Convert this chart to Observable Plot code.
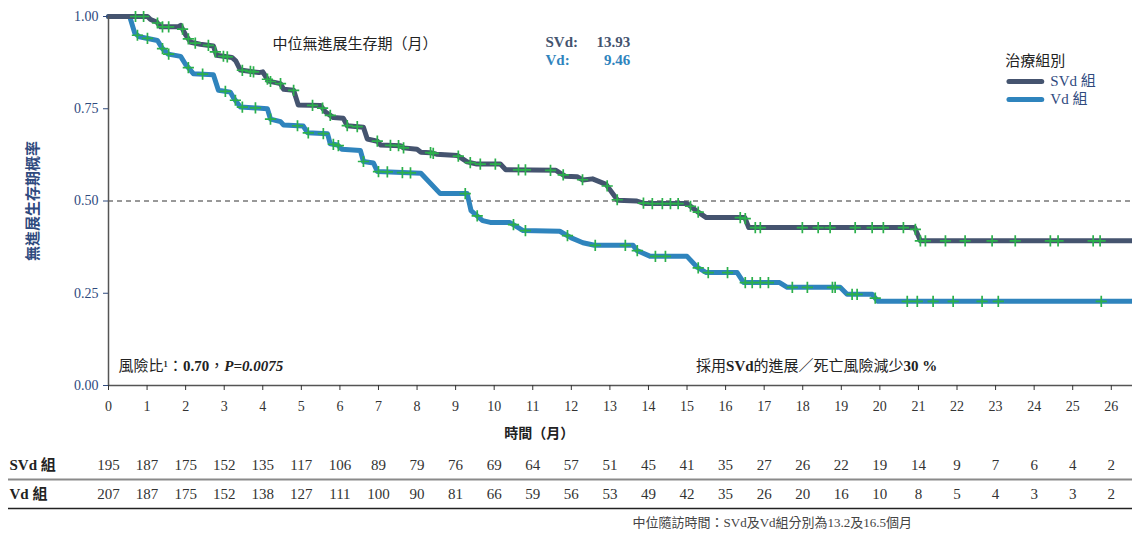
<!DOCTYPE html>
<html><head><meta charset="utf-8">
<script src="https://cdn.jsdelivr.net/npm/d3@7"></script>
<script src="https://cdn.jsdelivr.net/npm/@observablehq/plot@0.6"></script>
<style>
body{margin:0;background:#fff;}
#chart{width:1132px;height:536px;overflow:hidden;background:#fff}
#chart svg{display:block}
</style></head><body><div id="chart"></div>
<script>
// ---------- data ----------
const months = [0,1,2,3,4,5,6,7,8,9,10,11,12,13,14,15,16,17,18,19,20,21,22,23,24,25,26];
const yTicks = [0, 0.25, 0.5, 0.75, 1];
const groups = ["SVd", "Vd"];
const groupLabels = ["SVd 組", "Vd 組"];
const svdAtRisk = [195,187,175,152,135,117,106,89,79,76,69,64,57,51,45,41,35,27,26,22,19,14,9,7,6,4,2];
const vdAtRisk  = [207,187,175,152,138,127,111,100,90,81,66,59,56,53,49,42,35,26,20,16,10,8,5,4,3,3,2];
const medianLabels = ["SVd:", "Vd:"];
const medianValues = [13.93, 9.46];

const svdTime = [0,1.01,1.09,1.25,1.35,1.8,1.87,2.0,2.13,2.38,2.72,2.8,3.2,3.3,3.42,3.9,4.0,4.15,4.46,4.54,4.8,4.92,5.5,5.62,5.83,6.09,6.19,6.61,6.71,6.97,7.05,7.57,7.65,8.0,8.1,8.35,8.5,9.05,9.3,9.55,10.16,10.3,11.6,11.85,12.15,12.3,12.55,12.9,13.2,13.7,13.9,15.0,15.3,15.5,16.5,16.6,20.9,21.05,26.55];
const svdSurv = [1,1,0.992,0.985,0.972,0.972,0.976,0.95,0.93,0.925,0.92,0.895,0.889,0.88,0.855,0.848,0.85,0.825,0.818,0.803,0.80,0.76,0.759,0.742,0.726,0.724,0.704,0.70,0.668,0.662,0.652,0.650,0.644,0.640,0.632,0.631,0.627,0.623,0.606,0.60,0.60,0.585,0.583,0.567,0.566,0.557,0.56,0.545,0.502,0.50,0.493,0.493,0.469,0.455,0.455,0.428,0.428,0.392,0.392];
const vdTime = [0,0.55,0.68,0.8,1.27,1.4,1.55,1.87,2.0,2.2,2.72,2.85,3.16,3.24,3.42,4.12,4.2,4.46,4.54,5.05,5.16,5.68,5.75,5.94,6.05,6.53,6.61,6.87,6.97,8.1,8.6,9.3,9.4,9.7,9.9,10.4,10.75,11.7,12.0,12.3,12.6,13.6,13.7,14.05,15.0,15.27,15.5,16.3,16.47,17.4,17.6,18.97,19.15,19.8,19.95,26.55];
const vdSurv = [1,1,0.955,0.945,0.935,0.913,0.898,0.892,0.87,0.845,0.842,0.80,0.795,0.78,0.755,0.75,0.722,0.715,0.706,0.703,0.685,0.682,0.655,0.652,0.64,0.637,0.607,0.603,0.58,0.575,0.52,0.52,0.474,0.447,0.442,0.442,0.42,0.418,0.40,0.387,0.38,0.38,0.366,0.35,0.35,0.32,0.306,0.306,0.279,0.279,0.266,0.266,0.247,0.247,0.228,0.228];
const svdCensor = [0.70,0.91,1.27,1.40,1.56,1.92,2.07,2.25,2.59,2.77,2.98,3.08,3.47,3.68,3.76,4.12,4.20,4.46,4.80,5.29,5.55,5.75,6.19,6.45,6.97,7.31,7.52,7.65,8.35,8.42,9.07,9.38,9.64,10.03,10.63,10.81,11.46,11.79,12.29,12.93,13.19,13.87,14.10,14.36,14.57,14.77,15.09,15.29,16.38,16.51,16.77,16.90,17.99,18.40,18.71,19.36,19.80,20.09,20.61,20.92,21.05,21.18,21.70,22.21,22.91,23.51,24.42,24.62,25.53,25.71];
const vdCensor = [0.75,1.01,1.40,1.56,2.07,2.44,3.03,3.29,3.47,3.81,4.20,4.90,5.18,5.57,5.83,5.96,6.61,7.00,7.23,7.62,7.83,9.25,9.56,10.50,10.81,11.90,12.62,13.40,13.71,14.18,14.44,15.29,15.55,16.05,16.51,16.69,16.90,17.11,17.73,18.12,18.77,18.84,19.28,19.41,19.88,20.71,20.97,21.38,21.90,22.65,23.07,25.74];

// ---------- styling ----------
const colors = {SVd: "#45546f", Vd: "#2f84bd"};
const green = "#2bb04b";
const navy = "#2f4a7e";
const SERIF = "'Liberation Serif', 'Noto Sans CJK TC', serif";
const SANS = "'Noto Sans CJK TC', 'Noto Sans', sans-serif";

function survAt(times, surv, t) {
  for (let i = 0; i < times.length - 1; i++) {
    if (t >= times[i] && t <= times[i + 1]) {
      const f = (t - times[i]) / (times[i + 1] - times[i]);
      return surv[i] + f * (surv[i + 1] - surv[i]);
    }
  }
  return surv[surv.length - 1];
}

const curveData = [
  ...vdTime.map((t, i) => ({group: "Vd", t, s: vdSurv[i]})),
  ...svdTime.map((t, i) => ({group: "SVd", t, s: svdSurv[i]}))
];
const censorData = [
  ...vdCensor.map(t => ({group: "Vd", t, s: survAt(vdTime, vdSurv, t)})),
  ...svdCensor.map(t => ({group: "SVd", t, s: survAt(svdTime, svdSurv, t)}))
];

const main = Plot.plot({
  width: 1132, height: 450,
  marginLeft: 108, marginRight: 0, marginTop: 16, marginBottom: 65,
  x: {domain: [0, 26.55]},
  y: {domain: [0, 1]},
  style: {fontFamily: SERIF, fontSize: "14px", color: "#222", background: "#fff", overflow: "visible"},
  marks: [
    Plot.ruleY([0.5], {stroke: "#333", strokeWidth: 1, strokeDasharray: "5,4"}),
    Plot.line(curveData, {filter: d => d.group === "Vd", x: "t", y: "s", stroke: colors.Vd, strokeWidth: 5, strokeLinejoin: "round", strokeLinecap: "round"}),
    Plot.line(curveData, {filter: d => d.group === "SVd", x: "t", y: "s", stroke: colors.SVd, strokeWidth: 5, strokeLinejoin: "round", strokeLinecap: "round"}),
    Plot.dot(censorData, {x: "t", y: "s", symbol: "plus", r: 3.7, stroke: green, strokeWidth: 1.7}),
    Plot.ruleX([0], {stroke: "#555", strokeWidth: 1.5}),
    Plot.ruleY([0], {stroke: "#555", strokeWidth: 1.5}),
    Plot.axisX(months, {tickSize: 5, tickPadding: 11, label: null, fontSize: 14, fontFamily: SERIF, color: "#333"}),
    Plot.axisY(yTicks, {tickSize: 5, tickPadding: 5, tickFormat: d3.format(".2f"), label: null, fontSize: 14, fontFamily: SERIF, color: navy}),
    // axis titles
    Plot.text(["時間（月）"], {x: 11.17, frameAnchor: "bottom", dy: 52, fontFamily: SANS, fontWeight: "bold", fontSize: 14, fill: "#222"}),
    Plot.text(["無進展生存期概率"], {frameAnchor: "left", dx: -75, rotate: -90, textAnchor: "middle", fontFamily: SANS, fontWeight: "bold", fontSize: 15, letterSpacing: 2, fill: navy}),
    // median annotation
    Plot.text(["中位無進展生存期（月）"], {x: 4.25, y: 0.924, textAnchor: "start", fontFamily: SANS, fontSize: 15, fill: "#222"}),
    Plot.text(medianLabels, {x: 11.33, y: (d, i) => 0.93 - i * 0.049, textAnchor: "start", fontWeight: "bold", fontSize: 15, fill: (d, i) => colors[groups[i]]}),
    Plot.text(medianValues, {x: 13.53, y: (d, i) => 0.93 - i * 0.049, text: d => d3.format(".2f")(d), textAnchor: "end", fontWeight: "bold", fontSize: 15, fill: (d, i) => colors[groups[i]]}),
    // legend
    Plot.text(["治療組別"], {x: 23.25, y: 0.878, textAnchor: "start", fontFamily: SANS, fontSize: 15, fill: "#222"}),
    Plot.ruleY(groups, {y: (d, i) => 0.824 - i * 0.049, x1: 23.36, x2: 24.21, stroke: d => colors[d], strokeWidth: 5, strokeLinecap: "round"}),
    Plot.text(groupLabels, {x: 24.42, y: (d, i) => 0.824 - i * 0.049, textAnchor: "start", fontSize: 15, fill: navy}),
    // bottom notes
    Plot.text(["風險比¹：0.70，P=0.0075"], {x: 0.26, y: 0.052, textAnchor: "start", fontSize: 15, fill: "#222"}),
    Plot.text(["採用SVd的進展／死亡風險減少30 %"], {x: 21.49, y: 0.052, textAnchor: "end", fontSize: 15, fill: "#222"})
  ]
});

const tableData = [
  ...months.map((m, i) => ({row: 0.5, t: m, n: svdAtRisk[i]})),
  ...months.map((m, i) => ({row: 1.5, t: m, n: vdAtRisk[i]}))
];
const table = Plot.plot({
  width: 1132, height: 86,
  marginLeft: 108, marginRight: 0, marginTop: 0, marginBottom: 28,
  x: {domain: [0, 26.55], axis: null},
  y: {domain: [0, 2], reverse: true, axis: null},
  style: {fontFamily: SERIF, fontSize: "15px", color: "#222", background: "#fff", overflow: "visible"},
  marks: [
    Plot.ruleY([1], {stroke: "#8a8a8a", strokeWidth: 2, insetLeft: -100}),
    Plot.ruleY([2], {stroke: "#222", strokeWidth: 1.5, insetLeft: -100}),
    Plot.text(groupLabels, {y: (d, i) => i + 0.5, frameAnchor: "left", dx: -99, textAnchor: "start", fontWeight: "bold", fontSize: 15, fill: "#222"}),
    Plot.text(tableData, {x: "t", y: "row", text: "n", fontSize: 15, fill: "#333"}),
    Plot.text(["中位隨訪時間：SVd及Vd組分別為13.2及16.5個月"], {x: 17.21, y: 2.5, fontSize: 13, fill: "#444"})
  ]
});

// rich text styling (bold / italic runs)
function rich(svg, plain, parts) {
  d3.select(svg).selectAll("text").filter(function () { return this.textContent === plain; }).each(function () {
    const t = d3.select(this);
    t.text(null);
    for (const p of parts) {
      const s = t.append("tspan").text(p.text);
      if (p.bold) s.attr("font-weight", "bold");
      if (p.italic) s.attr("font-style", "italic");
      if (p.sans) s.attr("font-family", SANS);
    }
  });
}
rich(main, "風險比¹：0.70，P=0.0075", [
  {text: "風險比", sans: true}, {text: "¹"}, {text: "：", sans: true}, {text: "0.70", bold: true},
  {text: "，", sans: true}, {text: "P=0.0075", bold: true, italic: true}
]);
rich(main, "採用SVd的進展／死亡風險減少30 %", [
  {text: "採用", sans: true}, {text: "SVd", bold: true}, {text: "的進展／死亡風險減少", sans: true}, {text: "30 %", bold: true}
]);

const chart = document.getElementById("chart");
chart.appendChild(main);
chart.appendChild(table);
</script>
</body></html>
